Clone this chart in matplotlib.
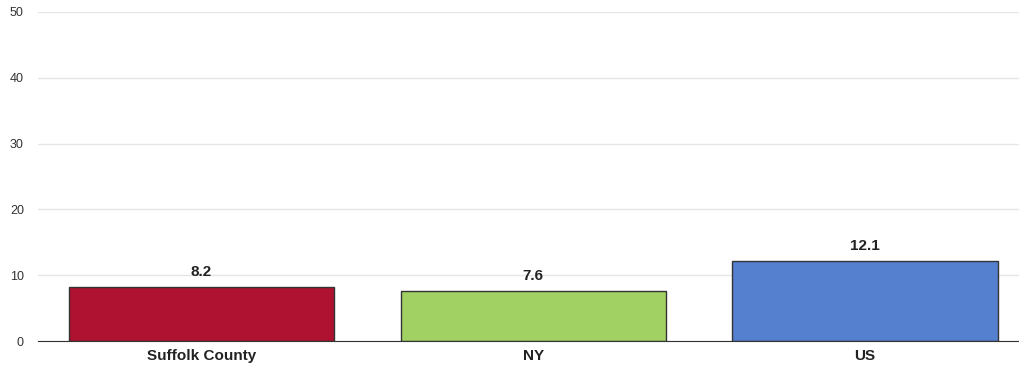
import matplotlib
matplotlib.use("Agg")
import matplotlib.pyplot as plt

categories = ["Suffolk County", "NY", "US"]
values = [8.2, 7.6, 12.1]
colors = ["#AF1230", "#A1D163", "#5580D0"]
yticks = [0, 10, 20, 30, 40, 50]

plt.rcParams["font.family"] = ["Liberation Sans", "DejaVu Sans"]

fig = plt.figure(figsize=(10.19, 3.70), dpi=100)
ax = fig.add_axes([0.037, 0.078, 0.963, 0.890])

x = list(range(len(categories)))
ax.bar(x, values, width=0.8, color=colors, edgecolor="#333333", linewidth=1.0, zorder=3)
for xi, v in zip(x, values):
    ax.text(xi, v + 1.3, f"{v}", ha="center", va="bottom", fontsize=11, fontweight="bold", color="#222222")

ax.set_ylim(0, 50)
ax.set_xlim(-0.494, 2.464)
ax.set_yticks(yticks)
ax.set_xticks(x)
ax.set_xticklabels(categories, fontsize=11, fontweight="bold", color="#222222")
ax.tick_params(axis="y", labelsize=9, colors="#333333", length=0, pad=10)
ax.tick_params(axis="x", length=0, pad=6)
ax.grid(axis="y", color="#e6e6e6", linewidth=1.0, zorder=0)
for s in ["top", "right", "left"]:
    ax.spines[s].set_visible(False)
ax.spines["bottom"].set_color("#333333")
ax.spines["bottom"].set_zorder(4)

fig.savefig("out.png", dpi=100)
